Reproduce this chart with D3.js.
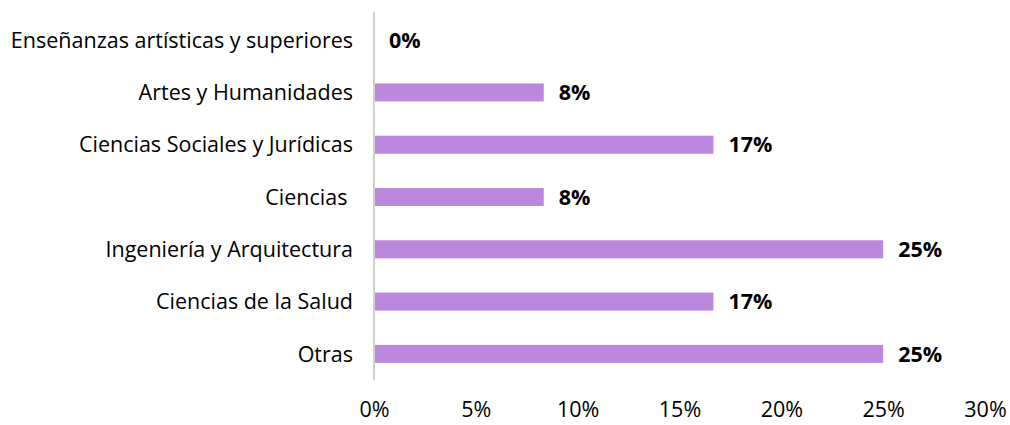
<!DOCTYPE html>
<html>
<head>
<meta charset="utf-8">
<script src="https://cdn.jsdelivr.net/npm/d3@7"></script>
<style>
	body { margin: 0; background: #fff; }
	text { font-family: "Open Sans", Lato, sans-serif; fill: #000; }
</style>
</head>
<body>
<div id="chart"></div>
<script>
// Categories, top to bottom
const categories = ["Enseñanzas artísticas y superiores", "Artes y Humanidades",
	"Ciencias Sociales y Jurídicas", "Ciencias ", "Ingeniería y Arquitectura",
	"Ciencias de la Salud", "Otras"];
// Shares (12 answers in total)
const shares = [0, 1 / 12, 2 / 12, 1 / 12, 3 / 12, 2 / 12, 3 / 12];
const tickValues = [0, 0.05, 0.10, 0.15, 0.20, 0.25, 0.30];

const width = 1010, height = 425;
const fontSize = 21.5;
const svg = d3.select("#chart").append("svg")
	.attr("width", width)
	.attr("height", height);

const x = d3.scaleLinear().domain([0, 0.30]).range([374, 985]);
const y = d3.scaleBand().domain(categories).range([14, 380])
	.paddingInner(0.655).paddingOuter(0.3275);

const fmt = d3.format(".0%");

// vertical axis line
svg.append("line")
	.attr("x1", x(0)).attr("x2", x(0))
	.attr("y1", 12).attr("y2", 380)
	.attr("stroke", "#d0d0d0")
	.attr("stroke-width", 2);

// bars
svg.append("g").selectAll("rect")
	.data(shares)
	.enter().append("rect")
	.attr("x", x(0) + 1)
	.attr("y", (d, i) => y(categories[i]))
	.attr("width", d => Math.max(0, x(d) - x(0) - 1))
	.attr("height", y.bandwidth())
	.attr("fill", "#bb88dd");

// value labels
svg.append("g").selectAll("text")
	.data(shares)
	.enter().append("text")
	.attr("x", d => x(d) + 15)
	.attr("y", (d, i) => y(categories[i]) + y.bandwidth() / 2)
	.attr("dy", "0.36em")
	.attr("font-size", fontSize)
	.attr("font-weight", "bold")
	.text(d => fmt(d));

// category labels (keep the trailing space of "Ciencias ")
svg.append("g").selectAll("text")
	.data(categories)
	.enter().append("text")
	.attr("x", 353)
	.attr("y", d => y(d) + y.bandwidth() / 2)
	.attr("dy", "0.36em")
	.attr("text-anchor", "end")
	.attr("font-size", fontSize)
	.style("white-space", "pre")
	.text(d => d);

// x axis tick labels
const xAxis = d3.axisBottom(x).tickValues(tickValues).tickFormat(fmt).tickSize(0);
const gx = svg.append("g")
	.attr("transform", "translate(0,399)")
	.call(xAxis);
gx.select(".domain").remove();
gx.selectAll("text")
	.attr("font-size", fontSize)
	.style("font-family", "'Open Sans', Lato, sans-serif")
	.attr("fill", "#000")
	.attr("dy", "0.71em");
</script>
</body>
</html>
